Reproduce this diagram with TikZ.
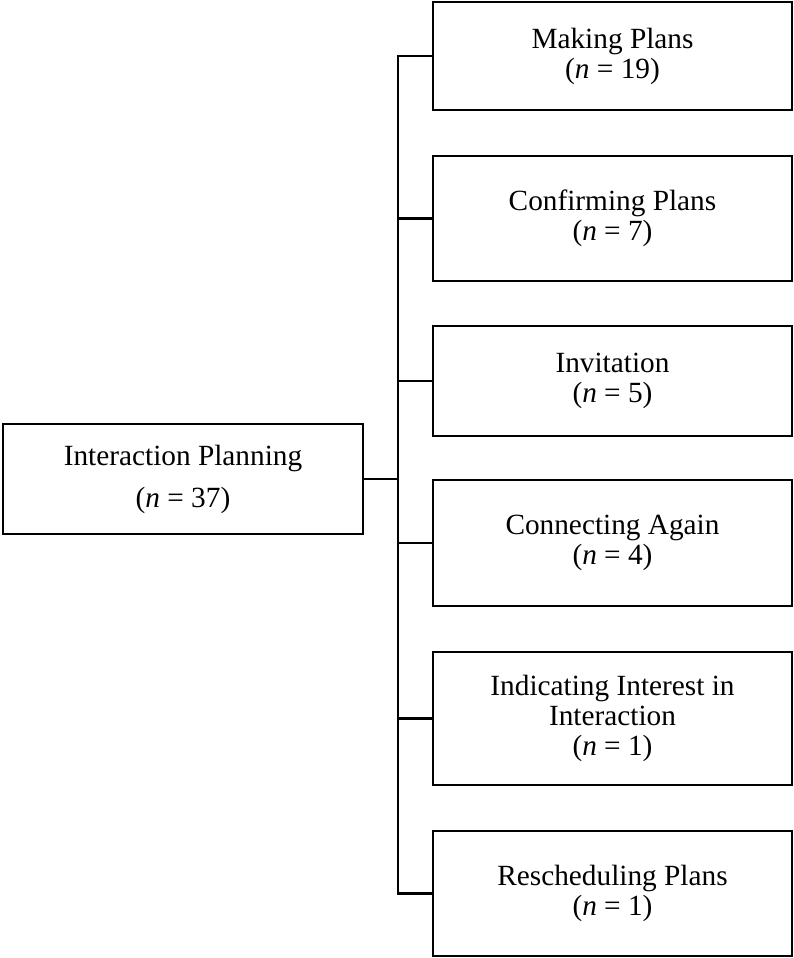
\documentclass[tikz,border=0pt]{standalone}
\usepackage{fontspec}
\setmainfont{Liberation Serif}
\begin{document}
\begin{tikzpicture}[x=1pt,y=-1pt,
  catbox/.style={draw=black,line width=2.2pt,inner sep=0pt,align=center,
    minimum width=359pt,font=\fontsize{29.3}{30}\selectfont},
  rootbox/.style={draw=black,line width=2.2pt,inner sep=0pt,align=center,
    minimum width=360pt,minimum height=110pt,font=\fontsize{29.3}{42}\selectfont},
  link/.style={line width=2.2pt,draw=black}]
\useasboundingbox (0,0) rectangle (794,958);
\node[rootbox] (root) at (183,479) {Interaction Planning\\(\textit{n} = 37)};
\node[catbox,minimum height=108pt] (b1) at (612.5,56) {Making Plans\\(\textit{n} = 19)};
\node[catbox,minimum height=125pt] (b2) at (612.5,218.5) {Confirming Plans\\(\textit{n} = 7)};
\node[catbox,minimum height=110pt] (b3) at (612.5,381) {Invitation\\(\textit{n} = 5)};
\node[catbox,minimum height=126pt] (b4) at (612.5,543) {Connecting Again\\(\textit{n} = 4)};
\node[catbox,minimum height=133pt] (b5) at (612.5,718.5) {Indicating Interest in\\Interaction\\(\textit{n} = 1)};
\node[catbox,minimum height=125pt] (b6) at (612.5,893.5) {Rescheduling Plans\\(\textit{n} = 1)};
\coordinate (j) at (398,479);
\draw[link] (root.east) -- (j);
\foreach \b in {b1,b2,b3,b4,b5,b6}{
  \draw[link] (\b.west) -| (j);
}
\end{tikzpicture}
\end{document}
